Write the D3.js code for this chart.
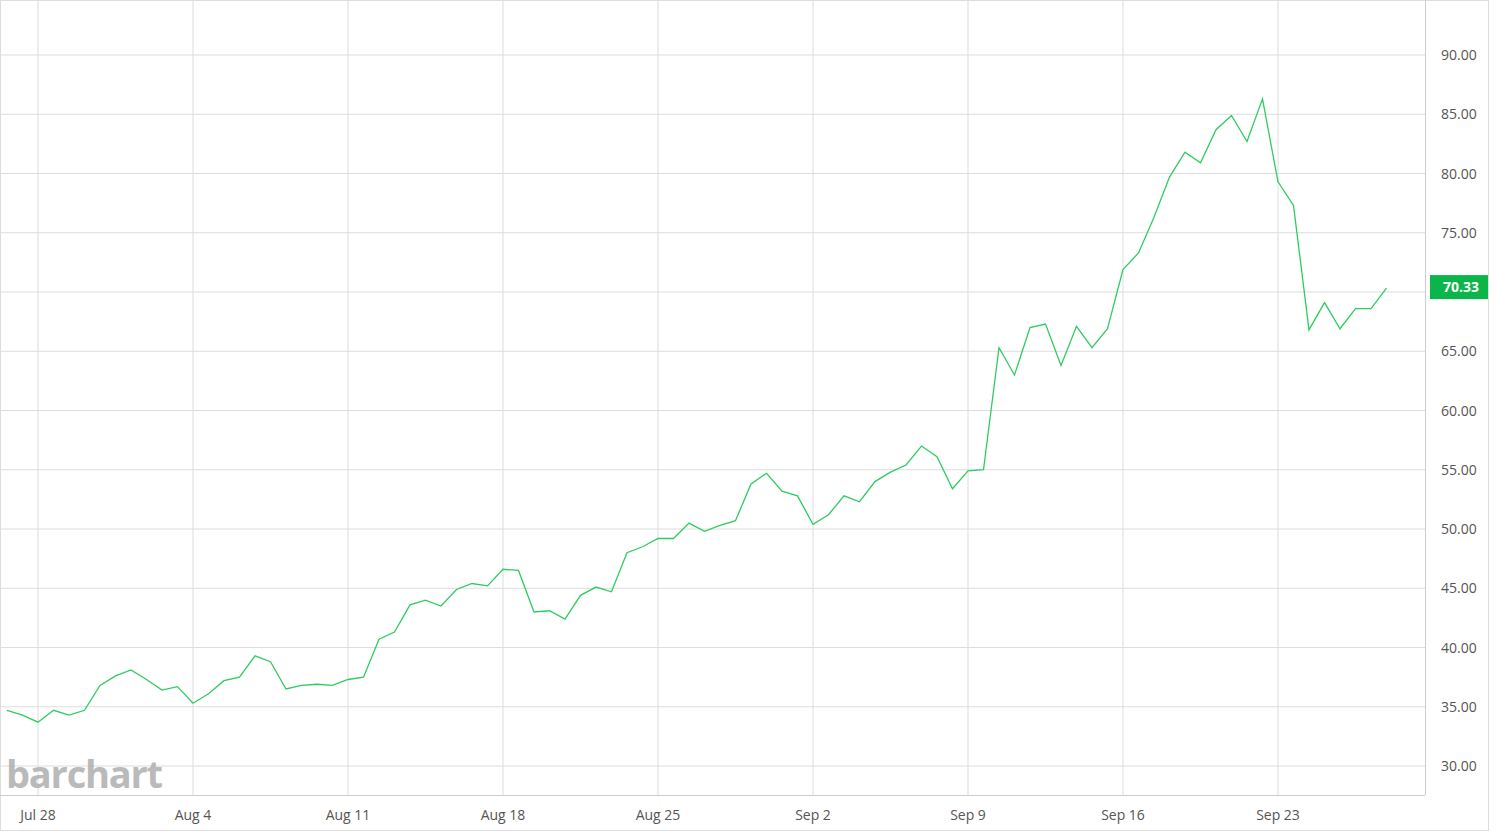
<!DOCTYPE html>
<html><head><meta charset="utf-8">
<script src="https://cdn.jsdelivr.net/npm/d3@7"></script>
<style>body{margin:0;background:#fff;font-family:"Open Sans",sans-serif;}</style>
</head><body><div id="chart"></div>
<script>
// closing prices, half-day bars
const prices = [34.7,34.3,33.7,34.7,34.3,34.7,36.8,37.6,38.1,37.3,36.4,36.7,35.3,36.1,37.2,37.5,39.3,38.8,36.5,36.8,
  36.9,36.8,37.3,37.5,40.7,41.3,43.6,44.0,43.5,44.9,45.4,45.2,46.6,46.5,43.0,43.1,42.4,44.4,45.1,44.7,
  48.0,48.5,49.2,49.2,50.5,49.8,50.3,50.7,53.8,54.7,53.2,52.8,50.4,51.2,52.8,52.3,54.0,54.8,55.4,57.0,
  56.1,53.4,54.9,55.0,65.3,63.0,67.0,67.3,63.8,67.1,65.3,66.9,71.9,73.3,76.3,79.7,81.8,80.9,83.7,84.9,
  82.7,86.3,79.3,77.3,66.8,69.1,66.9,68.6,68.6,70.33];
const dateLabels = ["Jul 28","Aug 4","Aug 11","Aug 18","Aug 25","Sep 2","Sep 9","Sep 16","Sep 23"];
const dateIndex = [2,12,22,32,42,52,62,72,82];
const yTicks = [30,35,40,45,50,55,60,65,70,75,80,85,90];

const W = 1503, H = 838;
const svg = d3.select("#chart").append("svg").attr("width", W).attr("height", H);

const x = d3.scaleLinear().domain([0, 91]).range([7, 7 + 91 * 15.5]);
const y = d3.scaleLinear().domain([30, 90]).range([766, 55]);
const last = prices[prices.length - 1];

// outer frame
svg.append("rect").attr("x", 0.5).attr("y", 0.5).attr("width", 1488).attr("height", 830)
  .attr("fill", "none").attr("stroke", "#ddd");

// horizontal grid
svg.append("g").selectAll("line").data(yTicks).join("line")
  .attr("x1", 0).attr("x2", 1425).attr("y1", d => y(d)).attr("y2", d => y(d))
  .attr("stroke", "#ddd");

// vertical grid
svg.append("g").selectAll("line").data(dateIndex).join("line")
  .attr("x1", d => x(d)).attr("x2", d => x(d)).attr("y1", 0).attr("y2", 795)
  .attr("stroke", "#ddd");

// right edge + bottom line
svg.append("line").attr("x1", 1425.5).attr("x2", 1425.5).attr("y1", 0).attr("y2", 795).attr("stroke", "#ccc");
svg.append("line").attr("x1", 0).attr("x2", 1425).attr("y1", 795.5).attr("y2", 795.5).attr("stroke", "#ccc");

// y labels (the one hidden behind the last-value tag is skipped)
svg.append("g").selectAll("text").data(yTicks.filter(d => Math.abs(y(d) - y(last)) > 14)).join("text")
  .attr("x", 1441).attr("y", d => y(d) + 5).attr("font-size", 14).attr("fill", "#555")
  .text(d => d.toFixed(2));

// x labels
svg.append("g").selectAll("text").data(dateIndex).join("text")
  .attr("x", d => x(d)).attr("y", 820).attr("text-anchor", "middle")
  .attr("font-size", 14).attr("fill", "#555")
  .text((d, i) => dateLabels[i]);

// watermark
svg.append("text").attr("x", 6).attr("y", 788).attr("font-size", 38).attr("font-weight", 700)
  .attr("fill", "#aaa").attr("opacity", 0.8).attr("letter-spacing", -1.2).text("barchart");

// price line
svg.append("path").datum(prices)
  .attr("fill", "none").attr("stroke", "#2ecc60").attr("stroke-width", 1.3)
  .attr("d", d3.line().x((d, i) => x(i)).y(d => y(d)));

// last value tag
svg.append("rect").attr("x", 1430).attr("y", y(last) - 13).attr("width", 58).attr("height", 24)
  .attr("fill", "#0ab54a");
svg.append("text").attr("x", 1461).attr("y", y(last) + 4).attr("text-anchor", "middle")
  .attr("font-size", 14).attr("font-weight", 700).attr("fill", "#fff").text(last.toFixed(2));
</script></body></html>
